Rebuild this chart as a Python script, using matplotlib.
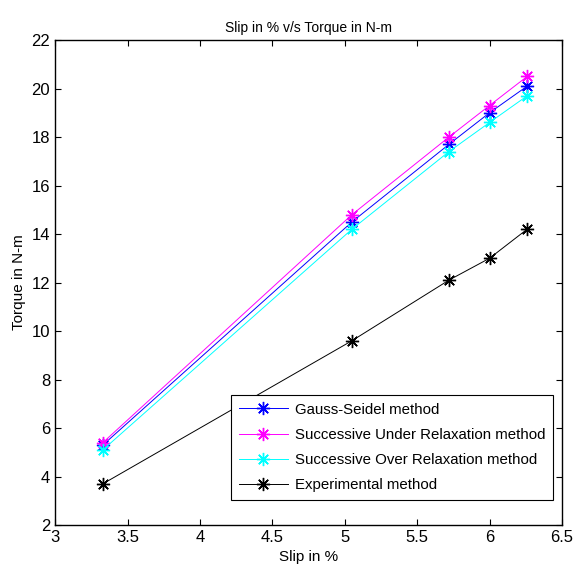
import matplotlib
matplotlib.use("Agg")
import matplotlib.pyplot as plt

plt.rcParams['font.family'] = ['Liberation Sans', 'DejaVu Sans']

slip = [3.33, 5.05, 5.72, 6.0, 6.26]
gauss_seidel = [5.3, 14.5, 17.7, 19.0, 20.1]
sur = [5.4, 14.8, 18.0, 19.3, 20.5]
sor = [5.1, 14.2, 17.4, 18.6, 19.7]
experimental = [3.7, 9.6, 12.1, 13.0, 14.2]

labels = ['Gauss-Seidel method', 'Successive Under Relaxation method',
          'Successive Over Relaxation method', 'Experimental method']
colors = ['#0000ff', '#ff00ff', '#00ffff', '#000000']
series = [gauss_seidel, sur, sor, experimental]

fig = plt.figure(figsize=(5.74, 5.76), dpi=100)
ax = fig.add_axes([0.096, 0.0885, 0.883, 0.842])

# matlab style asterisk marker (8 spokes)
for y, c, lab in zip(series, colors, labels):
    ax.plot(slip, y, '-', marker=(8, 2, 0), color=c, lw=0.7, ms=9.5, mew=1.0, label=lab)

ax.set_xlim(3, 6.5)
ax.set_ylim(2, 22)
ax.set_xticks([3, 3.5, 4, 4.5, 5, 5.5, 6, 6.5])
ax.set_xticklabels(['3', '3.5', '4', '4.5', '5', '5.5', '6', '6.5'])
ax.set_yticks(range(2, 23, 2))
ax.tick_params(direction='in', top=True, right=True, labelsize=12, length=4, width=0.8)
for s in ax.spines.values():
    s.set_linewidth(1.0)

ax.set_title('Slip in % v/s Torque in N-m', fontsize=10)
ax.set_xlabel('Slip in %', fontsize=11)
ax.set_ylabel('Torque in N-m', fontsize=11)

leg = ax.legend(loc='lower right', bbox_to_anchor=(0.982, 0.052), borderaxespad=0,
                fontsize=10.8, fancybox=False, framealpha=1, edgecolor='black',
                borderpad=0.5, labelspacing=0.75, handlelength=3.3, handletextpad=0.45)
leg.get_frame().set_linewidth(0.8)

fig.savefig('out.png', dpi=100)
